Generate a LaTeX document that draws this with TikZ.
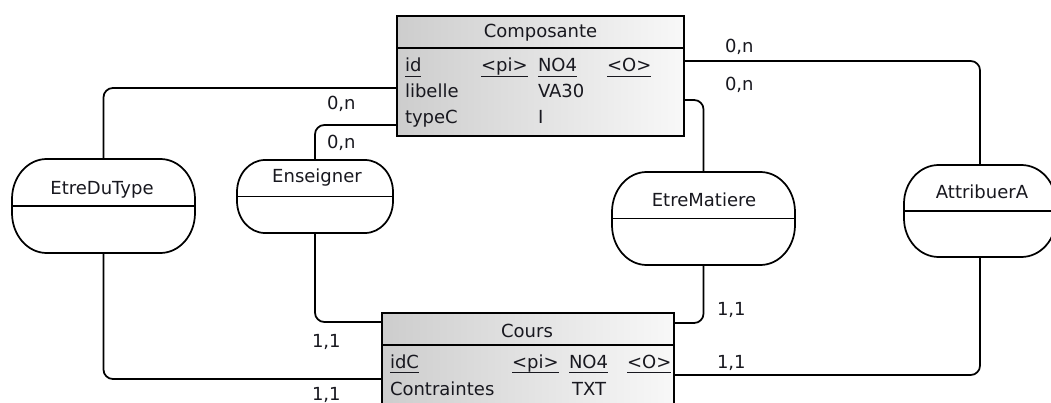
\documentclass[tikz,border=0pt]{standalone}
\usepackage{fontspec}
\setmainfont{DejaVu Sans}
\newcommand\ulw[1]{\setbox0=\hbox{#1}\rlap{\raisebox{-4pt}{\rule{\wd0}{1.2pt}}}\box0}
\newcommand\relshape[3]{%
  \draw[relline] ([xshift=#2]#1.north west) -- ([xshift=-#2]#1.north east)
    arc[start angle=90,end angle=0,x radius=#2,y radius=#3]
    -- ([yshift=#3]#1.south east)
    arc[start angle=0,end angle=-90,x radius=#2,y radius=#3]
    -- ([xshift=#2]#1.south west)
    arc[start angle=270,end angle=180,x radius=#2,y radius=#3]
    -- ([yshift=-#3]#1.north west)
    arc[start angle=180,end angle=90,x radius=#2,y radius=#3] -- cycle;
  \draw[relline] (#1.west) -- (#1.east);}
\definecolor{txt}{HTML}{18181F}
\definecolor{shL}{HTML}{CDCDCD}
\definecolor{shR}{HTML}{F8F8F8}
\begin{document}
\begin{tikzpicture}[x=0.75pt,y=-0.75pt,
  every node/.style={font=\fontsize{13.5pt}{16pt}\selectfont, text=txt, inner sep=0pt, outer sep=0pt},
  entity/.style={draw, line width=1.4pt, rectangle, left color=shL, right color=shR},
  relbox/.style={rectangle},
  relline/.style={line width=1.3pt},
  conn/.style={line width=1.3pt, rounded corners=7pt},
  attr/.style={anchor=base west},
  card/.style={anchor=base west}]
\useasboundingbox (0,0) rectangle (1051,403);
\fill[white] (0,0) rectangle (1051,403);

% relationship nodes
\node[relbox, minimum width=137.25pt, minimum height=70.5pt] (edt) at (103.5,206) {};
\node[relbox, minimum width=117pt, minimum height=54.75pt] (ens) at (315,196.5) {};
\node[relbox, minimum width=137.25pt, minimum height=69.75pt] (emat) at (703.5,218.5) {};
\node[relbox, minimum width=114pt, minimum height=69pt] (attrA) at (980,211) {};
\relshape{edt}{26pt}{30pt}
\relshape{ens}{21pt}{24pt}
\relshape{emat}{26pt}{30pt}
\relshape{attrA}{26pt}{29pt}
\node[anchor=base] (edtT) at (102,195) {EtreDuType};
\node[anchor=base] (ensT) at (317,183) {Enseigner};
\node[anchor=base] (ematT) at (704,206) {EtreMatiere};
\node[anchor=base] (attrAT) at (982,199) {AttribuerA};

% entities
\node[entity, minimum width=215.25pt, minimum height=90pt] (comp) at (540.5,76) {};
\draw[line width=1.4pt] (comp.west |- 0,48) -- (comp.east |- 0,48);
\node[anchor=base] (compT) at (540.5,38) {Composante};
\node[attr] (c1a) at (405,72) {\ulw{id}};
\node[attr] (c1b) at (481,72) {\ulw{<pi>}};
\node[attr] (c1c) at (538,72) {\ulw{NO4}};
\node[attr] (c1d) at (607,72) {\ulw{<O>}};
\node[attr] (c2a) at (405,98) {libelle};
\node[attr] (c2c) at (538,98) {VA30};
\node[attr] (c3a) at (405,124) {typeC};
\node[attr] (c3c) at (538,124) {I};

\node[entity, minimum width=219pt, minimum height=80.25pt] (cours) at (528,366.5) {};
\draw[line width=1.4pt] (cours.west |- 0,345) -- (cours.east |- 0,345);
\node[anchor=base] (coursT) at (527,337) {Cours};
\node[attr] (k1a) at (390,368) {\ulw{idC}};
\node[attr] (k1b) at (512,368) {\ulw{<pi>}};
\node[attr] (k1c) at (569,368) {\ulw{NO4}};
\node[attr] (k1d) at (627,368) {\ulw{<O>}};
\node[attr] (k2a) at (390,395) {Contraintes};
\node[attr] (k2c) at (572,395) {TXT};

% connectors
\draw[conn] (edt.north) |- (comp.west |- 0,88);
\draw[conn] (ens.north) |- (comp.west |- 0,125);
\draw[conn] (emat.north) |- (comp.east |- 0,100);
\draw[conn] (attrA.north) |- (comp.east |- 0,61);
\draw[conn] (ens.south) |- (cours.west |- 0,322);
\draw[conn] (edt.south) |- (cours.west |- 0,379);
\draw[conn] (emat.south) |- (cours.east |- 0,323);
\draw[conn] (attrA.south) |- (cours.east |- 0,375);

% cardinalities
\node[card] (l1) at (725,53) {0,n};
\node[card] (l2) at (725,91) {0,n};
\node[card] (l3) at (327,110) {0,n};
\node[card] (l4) at (327,148) {0,n};
\node[card] (l5) at (312,347) {1,1};
\node[card] (l6) at (312,400) {1,1};
\node[card] (l7) at (717,315) {1,1};
\node[card] (l8) at (717,368) {1,1};
\end{tikzpicture}
\end{document}
